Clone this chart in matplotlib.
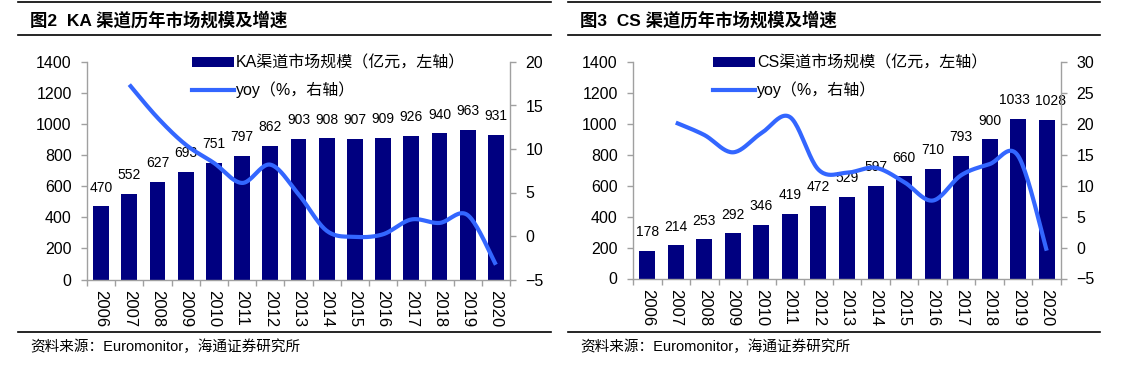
import numpy as np
import matplotlib
matplotlib.use('Agg')
import matplotlib.pyplot as plt
from matplotlib.lines import Line2D
from matplotlib.patches import Patch

# ---------------- data ----------------
years = ['2006', '2007', '2008', '2009', '2010', '2011', '2012', '2013',
         '2014', '2015', '2016', '2017', '2018', '2019', '2020']
ka_size = [470, 552, 627, 693, 751, 797, 862, 903, 908, 907, 909, 926, 940, 963, 931]
ka_yoy_years = years[1:]
ka_yoy = [17.4, 13.6, 10.5, 8.4, 6.1, 8.2, 4.8, 0.6, -0.1, 0.2, 1.9, 1.5, 2.4, -3.3]
cs_size = [178, 214, 253, 292, 346, 419, 472, 529, 597, 660, 710, 793, 900, 1033, 1028]
cs_yoy_years = years[1:]
cs_yoy = [20.2, 18.2, 15.4, 18.5, 21.1, 12.6, 12.1, 12.9, 10.6, 7.6, 11.7, 13.5, 14.8, -0.5]

ka_title = '图2  KA 渠道历年市场规模及增速'
cs_title = '图3  CS 渠道历年市场规模及增速'
ka_bar_label = 'KA渠道市场规模（亿元，左轴）'
cs_bar_label = 'CS渠道市场规模（亿元，左轴）'
yoy_label = 'yoy（%，右轴）'
source = '资料来源：Euromonitor，海通证券研究所'

FAM = ['Liberation Sans', 'Noto Sans CJK SC']
plt.rcParams['font.family'] = FAM

BAR = '#000080'
LINE = '#3366FF'
GREY = '#A0A0A0'

W, H = 1121, 381
fig = plt.figure(figsize=(W / 100, H / 100), dpi=100)


def smooth(x, y, n=24):
    """Excel-style smoothed line (Bezier through the data points)."""
    pts = np.column_stack([np.asarray(x, float), np.asarray(y, float)])
    out = []
    for i in range(len(pts) - 1):
        p0 = pts[i - 1] if i > 0 else pts[i]
        p1, p2 = pts[i], pts[i + 1]
        p3 = pts[i + 2] if i + 2 < len(pts) else pts[i + 1]
        c1 = p1 + (p2 - p0) / 6
        c2 = p2 - (p3 - p1) / 6
        t = np.linspace(0, 1, n)[:, None]
        seg = (1 - t) ** 3 * p1 + 3 * (1 - t) ** 2 * t * c1 + 3 * (1 - t) * t ** 2 * c2 + t ** 3 * p2
        out.append(seg if i == 0 else seg[1:])
    return np.vstack(out)


def hline(x0, x1, y, lw=1.2):
    fig.add_artist(Line2D([x0 / W, x1 / W], [1 - y / H, 1 - y / H],
                          color='black', lw=lw, transform=fig.transFigure))


def panel(px0, px1, py_top, py_bot, sizes, yoy_years, yoy, ylim2, yticks2,
          title, bar_label, tx, leg_x, line_x0, line_x1, nudge=None):
    nudge = nudge or {}
    ax = fig.add_axes([px0 / W, 1 - py_bot / H, (px1 - px0) / W, (py_bot - py_top) / H])
    x = np.arange(len(years))
    ax.bar(x, sizes, width=0.56, color=BAR, zorder=2)
    ax.set_xlim(-0.5, len(years) - 0.5)
    ax.set_ylim(0, 1400)
    ax.set_yticks(range(0, 1401, 200))
    ax.set_xticks(x)
    ax.set_xticklabels(years, rotation=-90, fontsize=12)
    ax.set_xticks(np.arange(-0.5, len(years), 1), minor=True)
    ax.tick_params(axis='x', which='major', length=0, pad=7.5)
    ax.tick_params(axis='x', which='minor', length=4, color=GREY, width=1)
    ax.tick_params(axis='y', length=4, color=GREY, width=1, pad=7, labelsize=11.5)
    for s in ['top', 'right']:
        ax.spines[s].set_visible(False)
    for s in ['left', 'bottom']:
        ax.spines[s].set_color(GREY)
        ax.spines[s].set_linewidth(1)
    for i, (xi, v) in enumerate(zip(x, sizes)):
        ax.annotate(str(v), (xi, v), xytext=(nudge.get(i, 0), 8.5), textcoords='offset points',
                    ha='center', va='bottom', fontsize=10)

    ax2 = ax.twinx()
    ax2.set_ylim(*ylim2)
    ax2.set_yticks(yticks2)
    ax2.tick_params(axis='y', length=4, color=GREY, width=1, pad=7, labelsize=11.5)
    for s in ['top', 'left', 'bottom']:
        ax2.spines[s].set_visible(False)
    ax2.spines['right'].set_color(GREY)
    ax2.spines['right'].set_linewidth(1)
    xy = [years.index(yy) for yy in yoy_years]
    curve = smooth(xy, yoy)
    ax2.plot(curve[:, 0], curve[:, 1], color=LINE, lw=3, solid_capstyle='butt', zorder=3)

    handles = [Patch(facecolor=BAR, edgecolor='none'),
               Line2D([0], [0], color=LINE, lw=3)]
    fig.legend(handles, [bar_label, yoy_label], loc='upper left',
               bbox_to_anchor=(leg_x / W, 1 - 55 / H), bbox_transform=fig.transFigure,
               frameon=False, fontsize=11.5, handlelength=2.6, handleheight=0.6,
               handletextpad=0.15, labelspacing=0.72, borderpad=0, borderaxespad=0)

    fig.text(tx / W, 1 - 19.5 / H, title, fontsize=12.5, fontweight='bold',
             ha='left', va='center')
    fig.text(tx / W, 1 - 347 / H, source, fontsize=10.5, ha='left', va='center')
    hline(line_x0, line_x1, 1.5)
    hline(line_x0, line_x1, 35)
    hline(line_x0, line_x1, 332)


panel(87, 510, 62, 279.5, ka_size, ka_yoy_years, ka_yoy, (-5, 20), range(-5, 21, 5),
      ka_title, ka_bar_label, 30, 192, 18, 551)
panel(633, 1061, 62, 278.5, cs_size, cs_yoy_years, cs_yoy, (-5, 30), range(-5, 31, 5),
      cs_title, cs_bar_label, 580, 713, 568, 1100, nudge={13: -2.5, 14: 3})

fig.savefig('out.png', dpi=100)
